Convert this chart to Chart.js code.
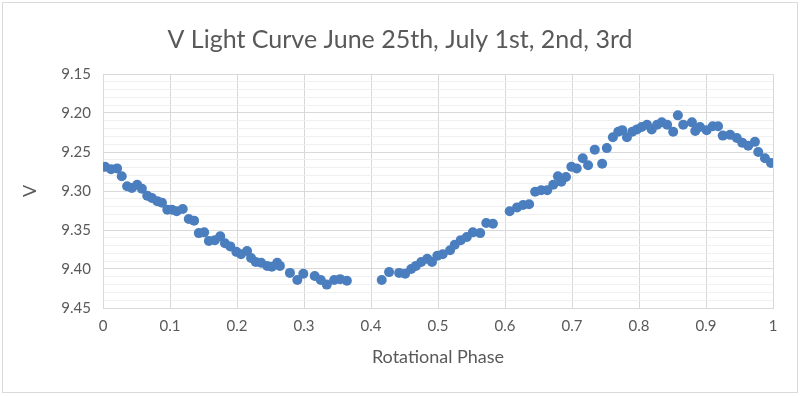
<!DOCTYPE html>
<html>
<head>
<meta charset="utf-8">
<script src="https://cdn.jsdelivr.net/npm/chart.js@4"></script>
<style>
  html, body { margin: 0; padding: 0; background: #fff; }
  #wrap { width: 800px; height: 396px; position: relative; }
</style>
</head>
<body>
<div id="wrap"><canvas id="lightCurve" width="800" height="396"></canvas></div>
<script>
// rotational phase of each measurement
const phase = [
  0.003, 0.012, 0.021, 0.028, 0.036, 0.043, 0.051, 0.058, 0.066, 0.073,
  0.081, 0.088, 0.096, 0.103, 0.110, 0.119, 0.128, 0.136, 0.143, 0.151,
  0.158, 0.167, 0.175, 0.182, 0.190, 0.199, 0.206, 0.215, 0.221, 0.228,
  0.236, 0.245, 0.252, 0.260, 0.264, 0.279, 0.290, 0.299, 0.316, 0.325,
  0.334, 0.345, 0.354, 0.364,
  0.416, 0.427, 0.442, 0.451, 0.460, 0.467, 0.475, 0.484, 0.491, 0.499,
  0.507, 0.518, 0.525, 0.534, 0.543, 0.552, 0.563, 0.572, 0.582, 0.607,
  0.618, 0.627, 0.636, 0.645, 0.654, 0.663, 0.672, 0.679, 0.684, 0.691,
  0.699, 0.707, 0.716, 0.724, 0.734, 0.745, 0.752, 0.761, 0.769, 0.775,
  0.782, 0.790, 0.797, 0.804, 0.812, 0.819, 0.827, 0.834, 0.842, 0.851,
  0.858, 0.866, 0.879, 0.884, 0.891, 0.901, 0.910, 0.918, 0.925, 0.936,
  0.946, 0.954, 0.963, 0.973, 0.978, 0.988, 0.997
];
// V magnitude
const vMag = [
  9.269, 9.272, 9.271, 9.281, 9.294, 9.296, 9.292, 9.297, 9.306, 9.309,
  9.313, 9.315, 9.324, 9.324, 9.326, 9.323, 9.336, 9.338, 9.354, 9.353,
  9.364, 9.363, 9.358, 9.367, 9.371, 9.378, 9.381, 9.377, 9.386, 9.391,
  9.392, 9.396, 9.397, 9.392, 9.396, 9.405, 9.414, 9.406, 9.409, 9.414,
  9.420, 9.414, 9.413, 9.415,
  9.414, 9.404, 9.405, 9.406, 9.400, 9.396, 9.391, 9.387, 9.391, 9.383,
  9.381, 9.376, 9.369, 9.363, 9.359, 9.353, 9.354, 9.341, 9.342, 9.326,
  9.321, 9.318, 9.317, 9.301, 9.299, 9.299, 9.292, 9.281, 9.288, 9.282,
  9.269, 9.271, 9.258, 9.267, 9.247, 9.265, 9.245, 9.231, 9.224, 9.222,
  9.231, 9.224, 9.221, 9.218, 9.215, 9.221, 9.215, 9.212, 9.215, 9.224,
  9.203, 9.215, 9.212, 9.223, 9.218, 9.222, 9.217, 9.217, 9.229, 9.228,
  9.232, 9.238, 9.242, 9.237, 9.250, 9.258, 9.264
];

const yMin = 9.15;
const yMax = 9.45;
const xMin = 0;
const xMax = 1;

const points = phase.map((p, i) => ({ x: p, y: vMag[i] }));

const isMajorY = v => Math.round(v * 100) % 5 === 0;

// white background + thin frame like the Excel chart area
const frame = {
  id: "frame",
  beforeDraw(chart) {
    const c = chart.ctx;
    c.save();
    c.fillStyle = "#fff";
    c.fillRect(0, 0, chart.width, chart.height);
    c.strokeStyle = "#d9d9d9";
    c.lineWidth = 1;
    c.strokeRect(2.5, 2.5, chart.width - 5, chart.height - 6);
    c.restore();
  }
};

new Chart(document.getElementById("lightCurve"), {
  type: "scatter",
  data: {
    datasets: [{
      label: "V",
      data: points,
      backgroundColor: "#4a7ebe",
      borderWidth: 0,
      pointRadius: 5,
      pointHoverRadius: 5
    }]
  },
  options: {
    responsive: false,
    animation: false,
    layout: { padding: { left: 27, right: 27, top: 0, bottom: 0 } },
    plugins: {
      legend: { display: false },
      tooltip: { enabled: false },
      title: {
        display: true,
        text: "V Light Curve June 25th, July 1st, 2nd, 3rd",
        color: "#595959",
        font: { family: "Lato", size: 25, weight: "normal" },
        padding: { top: 25, bottom: 19 }
      }
    },
    scales: {
      x: {
        type: "linear",
        min: xMin,
        max: xMax,
        afterFit(scale) { scale.height = 88; },
        ticks: {
          stepSize: 0.1,
          padding: 9,
          color: "#595959",
          font: { family: "Lato", size: 15 },
          callback: v => String(Number(v.toFixed(1)))
        },
        grid: { color: "#d9d9d9", drawTicks: false },
        border: { color: "#d9d9d9" },
        title: {
          display: true,
          text: "Rotational Phase",
          color: "#595959",
          font: { family: "Lato", size: 18 },
          padding: { top: 0, bottom: 28 }
        }
      },
      y: {
        type: "linear",
        reverse: true,
        min: yMin,
        max: yMax,
        afterFit(scale) { scale.width = 76; },
        ticks: {
          stepSize: 0.01,
          padding: 12,
          autoSkip: false,
          color: "#595959",
          font: { family: "Lato", size: 15 },
          callback: v => (isMajorY(v) ? v.toFixed(2) : "")
        },
        grid: {
          drawTicks: false,
          color: ctx => (ctx.tick && isMajorY(ctx.tick.value) ? "#d9d9d9" : "#f0f0f0")
        },
        border: { color: "#d9d9d9" },
        title: {
          display: true,
          text: "V",
          color: "#595959",
          font: { family: "Lato", size: 18 },
          padding: { top: -8, bottom: 0 }
        }
      }
    }
  },
  plugins: [frame]
});
</script>
</body>
</html>
